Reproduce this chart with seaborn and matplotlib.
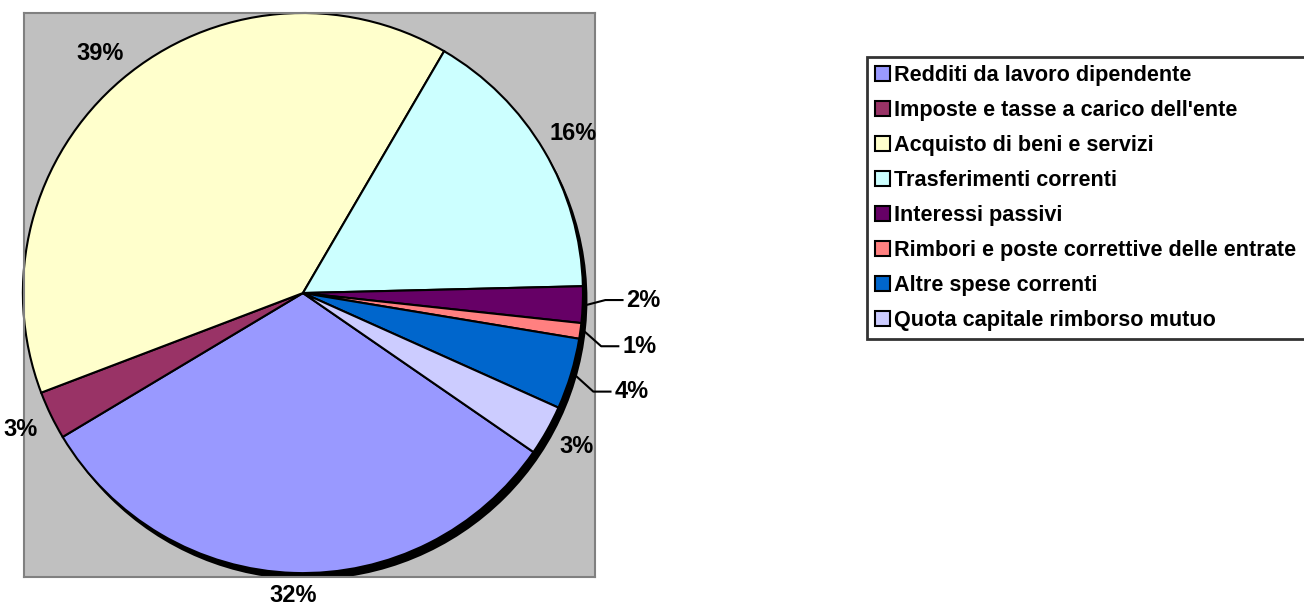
import numpy as np
import matplotlib
matplotlib.use("Agg")
import matplotlib.pyplot as plt
import seaborn as sns
from matplotlib.patches import Circle

# --- data (share of current expenditure, %) ---
categories = [
    "Redditi da lavoro dipendente",
    "Imposte e tasse a carico dell'ente",
    "Acquisto di beni e servizi",
    "Trasferimenti correnti",
    "Interessi passivi",
    "Rimbori e poste correttive delle entrate",
    "Altre spese correnti",
    "Quota capitale rimborso mutuo",
]
values = [31.8, 2.8, 39.2, 16.2, 2.1, 0.9, 4.1, 2.9]
colors = ["#9999FF", "#993366", "#FFFFCC", "#CCFFFF",
          "#660066", "#FF8080", "#0066CC", "#CCCCFF"]

sns.set_theme(style="white")
plt.rcParams['font.family'] = ['Liberation Sans', 'DejaVu Sans']
plt.rcParams['text.color'] = 'black'

W, H = 1304, 610
fig = plt.figure(figsize=(W / 100, H / 100), dpi=100)
# plot area (grey box) in pixels: x 24..595, y 13..577
ax = fig.add_axes([24 / W, 1 - 577 / H, 571 / W, 564 / H])
ax.set_facecolor("#C0C0C0")

# drop shadow behind the pie
ax.add_patch(Circle((0.016, -0.024), 1.0, facecolor="black", edgecolor="none", zorder=0))

wedges, texts, autotexts = ax.pie(
    values, colors=colors, startangle=-34.6, counterclock=False, radius=1.0,
    autopct=lambda p: f"{p:.0f}%", pctdistance=1.12,
    wedgeprops=dict(edgecolor="black", linewidth=1.5),
    textprops=dict(fontsize=17, fontweight="bold", color="black"),
)
for w in wedges:
    w.set_zorder(2)

# bottom label sits right at the figure edge; pull it in a little
x32, y32 = autotexts[0].get_position()
autotexts[0].set_position((x32, y32 * 0.965))

# small slices get leader lines (Excel style)
small = {4: (1.155, -0.025), 5: (1.14, -0.19), 6: (1.112, -0.352)}
for idx, (tx, ty) in small.items():
    w = wedges[idx]
    mid = np.deg2rad((w.theta1 + w.theta2) / 2)
    x0, y0 = 1.015 * np.cos(mid), 1.015 * np.sin(mid)
    elbow_x = tx - 0.075
    ax.plot([x0, elbow_x, tx - 0.01], [y0, ty, ty], color="black", lw=1.5, zorder=3,
            solid_capstyle="butt", clip_on=False)
    autotexts[idx].set_position((tx, ty))
    autotexts[idx].set_ha("left")

ax.set_aspect("auto")
ax.set_xlim(-0.996, 1.043)
ax.set_ylim(-1.014, 1.0)
ax.set_frame_on(True)
for s in ax.spines.values():
    s.set_visible(True)
    s.set_color("#808080")
    s.set_linewidth(1.5)
ax.set_xticks([])
ax.set_yticks([])

leg = ax.legend(wedges, categories, loc="upper left",
                bbox_to_anchor=(867 / W, 1 - 57 / H), bbox_transform=fig.transFigure,
                frameon=True, fancybox=False, borderaxespad=0, borderpad=0.38,
                handlelength=0.68, handleheight=0.68, handletextpad=0.2,
                labelspacing=0.645, prop=dict(size=15.6, weight="bold"))
leg.get_frame().set_edgecolor("black")
leg.get_frame().set_linewidth(2)
for t in leg.get_texts():
    t.set_color("black")
for h in leg.legend_handles:
    h.set_edgecolor("black")
    h.set_linewidth(1.5)

fig.savefig("out.png", dpi=100, facecolor="white")
